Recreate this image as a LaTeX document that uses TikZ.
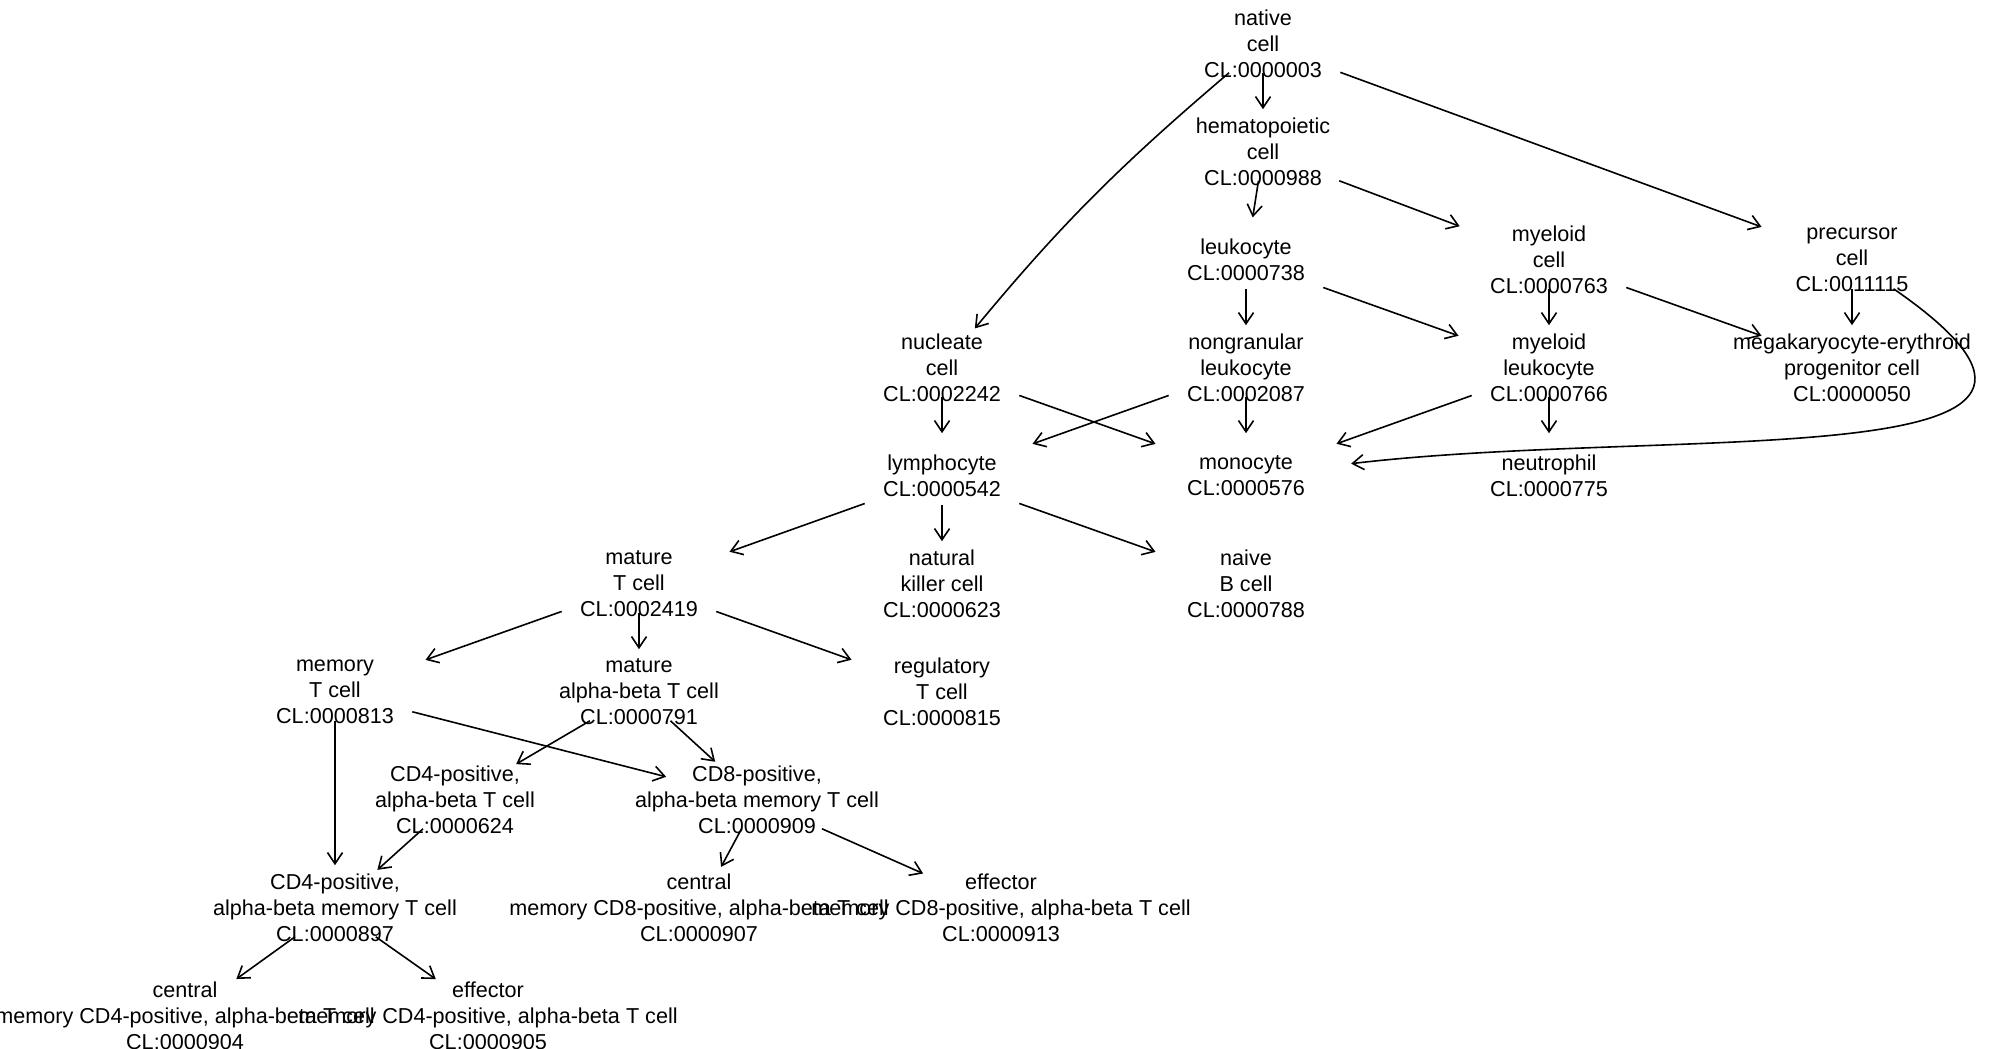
\documentclass[tikz,border=0pt]{standalone}
\usepackage{fontspec}
\setmainfont{Liberation Sans}
\usetikzlibrary{arrows.meta}

\begin{document}
\begin{tikzpicture}[x=0.5pt,y=0.5pt,->,>={Straight Barb[length=5.6pt,width=7.5pt]},
                    shorten >=7pt,line width=0.8pt]
  \tikzset{cell/.style={rectangle,minimum width=76.5pt,minimum height=28pt,inner sep=0pt},
           celltext/.style={align=center,inner sep=0pt,font=\fontsize{10.8}{13}\selectfont}}
  \useasboundingbox (0,0) rectangle (1999,-1049);

  \node[cell,label={[celltext]center:{native\\cell\\CL:0000003}}]            (native)   at (1263,-44)  {};
  \node[cell,label={[celltext]center:{hematopoietic\\cell\\CL:0000988}}]     (hemat)    at (1263,-152) {};
  \node[cell,label={[celltext]center:{leukocyte\\CL:0000738}}]               (leuko)    at (1246,-260) {};
  \node[cell,label={[celltext]center:{myeloid\\cell\\CL:0000763}}]           (myecell)  at (1549,-260) {};
  \node[cell,label={[celltext]center:{precursor\\cell\\CL:0011115}}]         (precur)   at (1852,-260) {};
  \node[cell,label={[celltext]center:{nucleate\\cell\\CL:0002242}}]          (nucleate) at (942,-368)  {};
  \node[cell,label={[celltext]center:{nongranular\\leukocyte\\CL:0002087}}]  (nongran)  at (1246,-368) {};
  \node[cell,label={[celltext]center:{myeloid\\leukocyte\\CL:0000766}}]      (myeleuk)  at (1549,-368) {};
  \node[cell,label={[celltext]center:{megakaryocyte-erythroid\\progenitor cell\\CL:0000050}}] (megak) at (1852,-368) {};
  \node[cell,label={[celltext]center:{lymphocyte\\CL:0000542}}]              (lympho)   at (942,-476)  {};
  \node[cell,label={[celltext]center:{monocyte\\CL:0000576}}]                (mono)     at (1246,-476) {};
  \node[cell,label={[celltext]center:{neutrophil\\CL:0000775}}]              (neutro)   at (1549,-476) {};
  \node[cell,label={[celltext]center:{mature\\T cell\\CL:0002419}}]          (matureT)  at (639,-584)  {};
  \node[cell,label={[celltext]center:{natural\\killer cell\\CL:0000623}}]    (nk)       at (942,-584)  {};
  \node[cell,label={[celltext]center:{naive\\B cell\\CL:0000788}}]           (naiveB)   at (1246,-584) {};
  \node[cell,label={[celltext]center:{memory\\T cell\\CL:0000813}}]          (memT)     at (335,-692)  {};
  \node[cell,label={[celltext]center:{mature\\alpha-beta T cell\\CL:0000791}}] (abT)    at (639,-692)  {};
  \node[cell,label={[celltext]center:{regulatory\\T cell\\CL:0000815}}]      (regT)     at (942,-692)  {};
  \node[cell,label={[celltext]center:{CD4-positive,\\alpha-beta T cell\\CL:0000624}}] (cdfourab) at (455,-800) {};
  \node[cell,label={[celltext]center:{CD8-positive,\\alpha-beta memory T cell\\CL:0000909}}] (cdeightmem) at (757,-800) {};
  \node[cell,label={[celltext]center:{CD4-positive,\\alpha-beta memory T cell\\CL:0000897}}] (cdfourmem) at (335,-908) {};
  \node[cell,label={[celltext]center:{central\\memory CD8-positive, alpha-beta T cell\\CL:0000907}}] (cmeight) at (699,-908) {};
  \node[cell,label={[celltext]center:{effector\\memory CD8-positive, alpha-beta T cell\\CL:0000913}}] (emeight) at (1001,-908) {};
  \node[cell,label={[celltext]center:{central\\memory CD4-positive, alpha-beta T cell\\CL:0000904}}] (cmfour) at (185,-1016) {};
  \node[cell,label={[celltext]center:{effector\\memory CD4-positive, alpha-beta T cell\\CL:0000905}}] (emfour) at (488,-1016) {};

  \path (native) edge (hemat)
                 edge [bend right=5] (nucleate)
                 edge (precur)
        (hemat) edge (leuko)
                edge (myecell)
        (leuko) edge (nongran)
                edge (myeleuk)
        (myecell) edge (myeleuk)
                  edge (megak)
        (precur) edge (megak)
        (nucleate) edge (lympho)
                   edge (mono)
        (nongran) edge (lympho)
                  edge (mono)
        (myeleuk) edge (mono)
                  edge (neutro)
        (lympho) edge (matureT)
                 edge (nk)
                 edge (naiveB)
        (matureT) edge (memT)
                  edge (abT)
                  edge (regT)
        (memT) edge (cdfourmem)
               edge (cdeightmem)
        (abT) edge (cdfourab)
              edge (cdeightmem)
        (cdfourab) edge (cdfourmem)
        (cdeightmem) edge (cmeight)
                     edge (emeight)
        (cdfourmem) edge (cmfour)
                    edge (emfour);

  % loop round the right side
  \draw[shorten >=14pt] (precur) .. controls (2170,-480) and (1680,-425) .. (mono);

\end{tikzpicture}
\end{document}
